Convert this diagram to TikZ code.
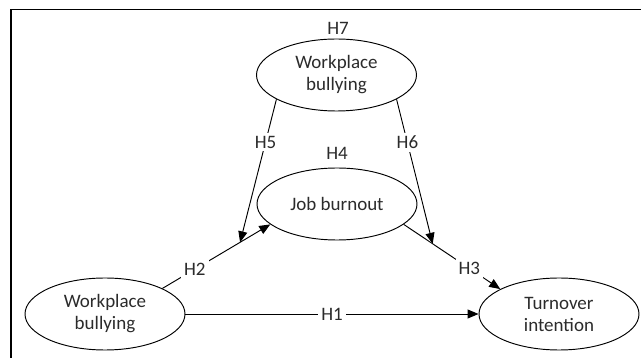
\documentclass[tikz,border=0pt]{standalone}
\usepackage{fontspec}
\setmainfont{Carlito}
\usetikzlibrary{shapes.geometric,arrows.meta}
\definecolor{txt}{HTML}{2B2B2B}
\tikzset{
  var/.style={ellipse,draw=black,line width=0.95pt,minimum width=160pt,minimum height=72pt,inner sep=0pt,align=center,text=txt,font=\fontsize{19}{22}\selectfont},
  lbl/.style={text=txt,font=\fontsize{19}{22}\selectfont,inner sep=1pt},
  lbf/.style={lbl,fill=white,inner sep=3pt},
  conn/.style={draw=black,line width=0.95pt},
  arr/.style={conn,-{Triangle[length=11pt,width=9pt]}}
}
\begin{document}
\begin{tikzpicture}[x=1pt,y=-1pt]
\useasboundingbox (0,0) rectangle (641,358);
\draw[line width=1.1pt] (641,9.5) -- (11,9.5) -- (11,358);
\node[var] (mod) at (336.5,75) {Workplace\\bullying};
\node[var] (jb) at (337,204) {Job burnout};
\node[var] (wb) at (105,314) {Workplace\\bullying};
\node[var] (ti) at (559,314) {Turnover\\intention};
\node[lbl] (h7) at (338,28) {H7};
\node[lbl] (h4) at (337,153) {H4};
\draw[arr] (wb.24) -- node[lbf,pos=0.3] {H2} coordinate[pos=0.72] (m5) (jb.197);
\draw[arr] (jb.-17) -- node[lbf,pos=0.68] {H3} coordinate[pos=0.3] (m6) (ti.157);
\draw[arr] (wb.east) -- node[lbf] {H1} (ti.west);
\draw[arr] (mod.202) -- node[lbf,pos=0.3] {H5} (m5);
\draw[arr] (mod.-22) -- node[lbf,pos=0.3] {H6} (m6);
\end{tikzpicture}
\end{document}
